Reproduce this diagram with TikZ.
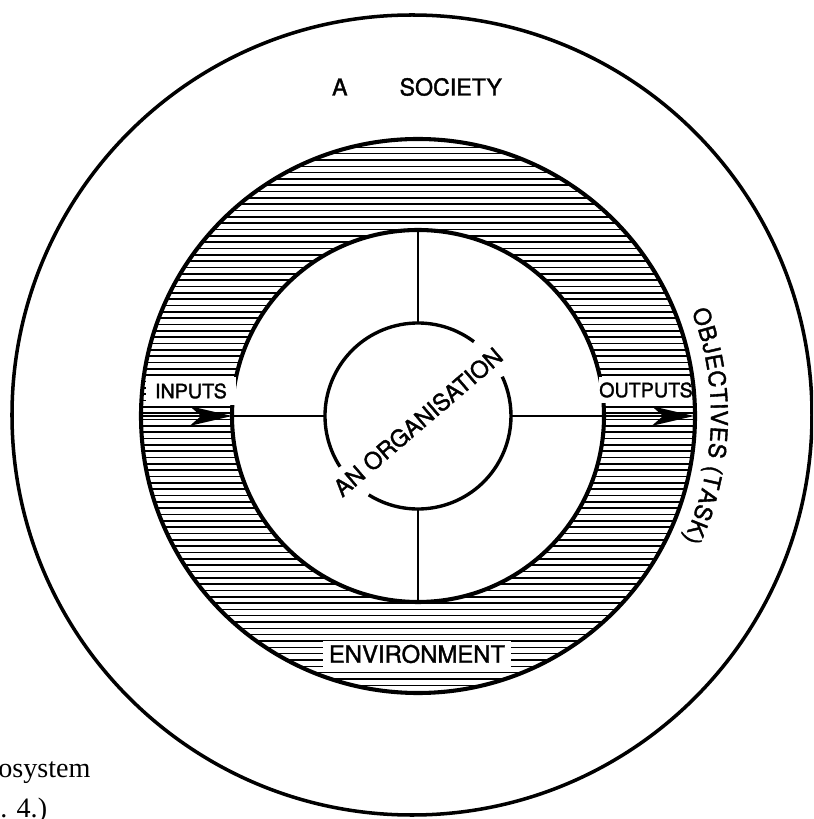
\documentclass[tikz,border=0pt]{standalone}
\usepackage{fontspec}
\newfontfamily\sansfont[FakeBold=1.6]{TeX Gyre Heros}
\newfontfamily\bookfont{Liberation Serif}
\usetikzlibrary{arrows.meta,decorations.text}

\begin{document}
\begin{tikzpicture}[x=0.025cm,y=0.025cm,
    lbl/.style={font=\sansfont\fontsize{#1}{#1}\selectfont, inner sep=0pt},
    book/.style={font=\bookfont\fontsize{20}{20}\selectfont, inner sep=0pt},
    gap/.style={fill=white, inner sep=0pt},
    flow/.style={line width=2pt, -{Stealth[length=30pt,width=14pt,inset=8pt]}}]
                \useasboundingbox (-418,-403) rectangle (395,416);
                \fill[white] (-418,-403) rectangle (395,416);
                \clip (-418,-403) rectangle (395,416);

                \coordinate (O) at (0,0);
                \coordinate (inL) at (-277,0);
                \coordinate (ringL) at (-186,0);
                \coordinate (orgL) at (-93,0);
                \coordinate (orgR) at (93,0);
                \coordinate (ringR) at (186,0);
                \coordinate (outR) at (276,0);
                \coordinate (ringT) at (0,186);
                \coordinate (orgT) at (0,93);
                \coordinate (orgB) at (0,-93);
                \coordinate (ringB) at (0,-186);

                % the society
                \draw[line width=2.5pt] (-6,1) circle[radius=400];

                % hatched environment ring
                \begin{scope}[even odd rule]
                    \clip (O) circle[radius=277] (O) circle[radius=186];
                    \foreach \y in {268.7,262.37,...,-280}
                        \draw[line width=1.1pt] (-280,\y) -- (280,\y);
                \end{scope}
                \draw[line width=2.9pt] (O) circle[radius=186];

                % the organisation, broken where its label crosses
                \draw[line width=2.4pt] (53:93) arc[start angle=53, end angle=213, radius=93];
                \draw[line width=2.4pt] (238:93) arc[start angle=238, end angle=385, radius=93];

                \draw[line width=2pt] (ringL) -- (orgL);
                \draw[line width=2pt] (ringT) -- (orgT);
                \draw[line width=2pt] (orgB) -- (ringB);

                \node[lbl=14, gap, minimum width=2.225cm, minimum height=0.7cm] (inputs) at (-227,25) {INPUTS};
                \node[lbl=14, gap, minimum width=2.325cm, minimum height=0.65cm] (outputs) at (228,26) {OUTPUTS};
                \node[lbl=17, gap, minimum width=4.7cm, minimum height=0.625cm] (env) at (-1,-238) {ENVIRONMENT};

                \draw[line width=2.9pt] (O) circle[radius=277];

                \draw[flow] (inL) -- (ringL);
                \draw[flow] (orgR) -- (outR);

                \node[lbl=16.5] (society) at (-1,329) {A\hspace{37pt}SOCIETY};
                \node[lbl=16.5, rotate=40.6] (org) at (0,-6) {AN ORGANISATION};

                \path[decorate, decoration={text along path,
                    text={|\sansfont\fontsize{16.5}{16.5}\selectfont|OBJECTIVES (TASK)},
                    text align={fit to path}}]
                    (21:293) arc[start angle=21, end angle=-25, radius=293];

                \node[book, anchor=base west] (osys) at (-420,-361) {osystem};
                \node[book, anchor=base west] (fig) at (-418,-401) {. 4.)};
            \end{tikzpicture}
\end{document}
